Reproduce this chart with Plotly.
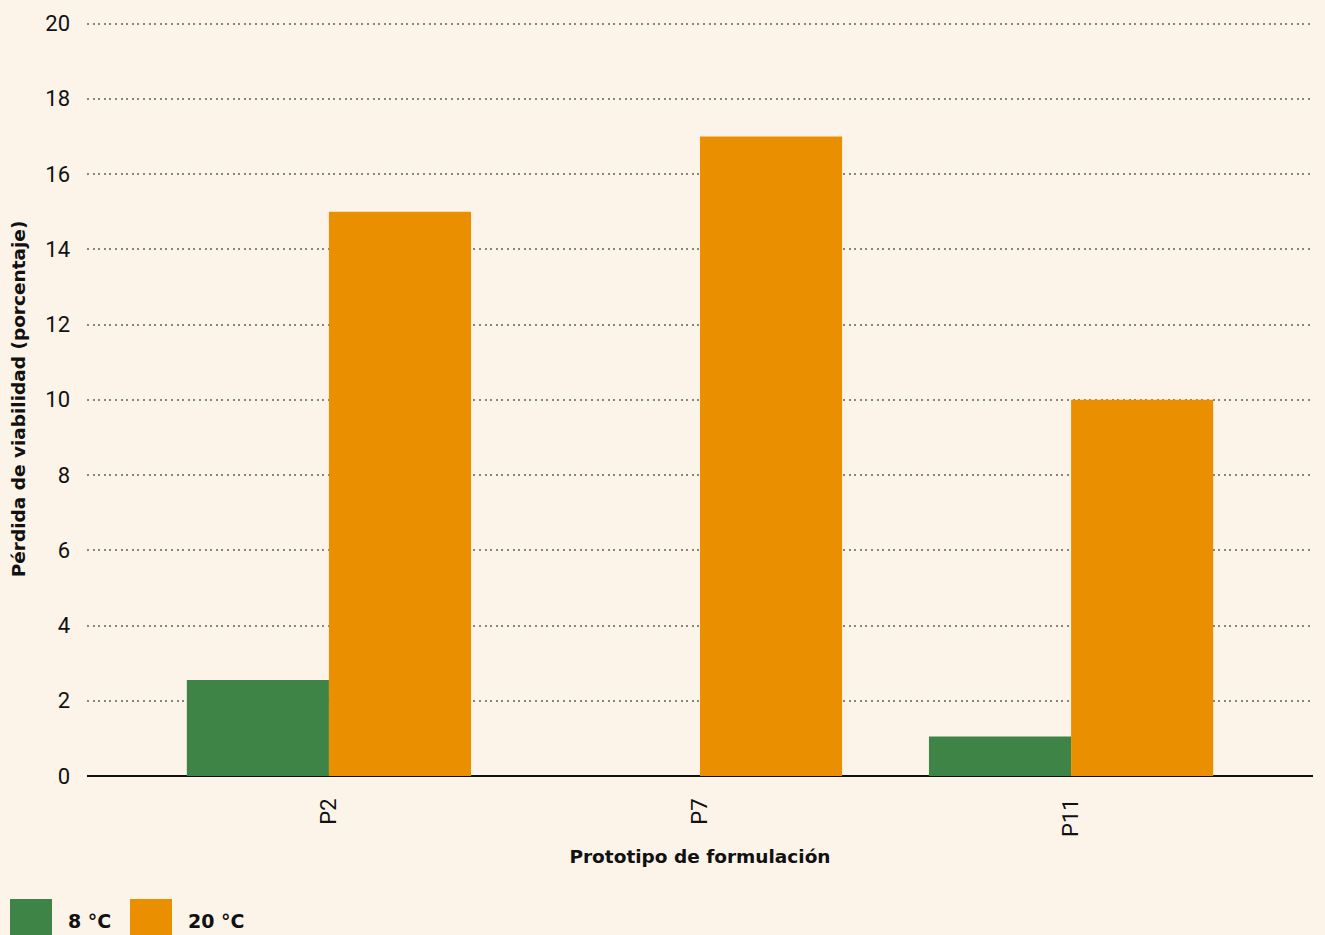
import plotly.graph_objects as go

# Viability loss per formulation prototype at two storage temperatures
prototipos = ["P2", "P7", "P11"]
perdida_8c = [2.55, 0, 1.05]
perdida_20c = [15, 17, 10]
serie_nombres = ["8 °C", "20 °C"]
colores = ["#3E8446", "#EA9000"]
y_ticks = list(range(0, 21, 2))

bg = "#FCF4E9"
tick_font = dict(family="Roboto, sans-serif", size=22, color="#111")
bold_font = dict(family="DejaVu Sans, sans-serif", size=18.5, color="#111")

fig = go.Figure()
for nombre, valores, color in zip(serie_nombres, [perdida_8c, perdida_20c], colores):
    fig.add_trace(go.Bar(x=prototipos, y=valores, name=nombre,
                         marker=dict(color=color, line=dict(width=0)),
                         showlegend=False))

W, H = 1325, 935
ML, MR, MT, MB = 87, 12, 22, 159
PW, PH = W - ML - MR, H - MT - MB

fig.update_layout(
    width=W, height=H,
    paper_bgcolor=bg, plot_bgcolor=bg,
    margin=dict(l=ML, r=MR, t=MT, b=MB),
    barmode="group", bargap=0.234, bargroupgap=0,
    font=tick_font,
)

fig.update_xaxes(
    range=[-0.652, 2.652], tickangle=-90, showgrid=False,
    showline=False, ticks="", ticklabelstandoff=17,
    tickfont=tick_font,
    title=dict(text="<b>Prototipo de formulación</b>", font=bold_font, standoff=14),
)
fig.update_yaxes(
    range=[0, 20.04], tickvals=y_ticks, showgrid=True,
    gridcolor="#858585", griddash="2px,3.6px", gridwidth=2,
    zeroline=True, zerolinecolor="#111", zerolinewidth=1.5,
    showline=False, ticks="", ticklabelstandoff=16,
    tickfont=tick_font,
    title=dict(text="<b>Pérdida de viabilidad (porcentaje)</b>", font=bold_font, standoff=14),
)

# Legend: colour swatches with bold labels along the bottom-left edge
def px_x(px):
    return (px - ML) / PW

def px_y(py):
    return (H - MB - py) / PH

for i, (nombre, color) in enumerate(zip(serie_nombres, colores)):
    x0 = 10 + i * 120
    fig.add_shape(type="rect", xref="paper", yref="paper",
                  x0=px_x(x0), x1=px_x(x0 + 42),
                  y0=px_y(H + 5), y1=px_y(899),
                  fillcolor=color, line=dict(width=0), layer="above")
    fig.add_annotation(xref="paper", yref="paper",
                       x=px_x(x0 + 56), y=px_y(921),
                       xanchor="left", yanchor="middle", showarrow=False,
                       text=f"<b>{nombre}</b>", font=dict(bold_font, size=19))

fig.write_html("out.html")
